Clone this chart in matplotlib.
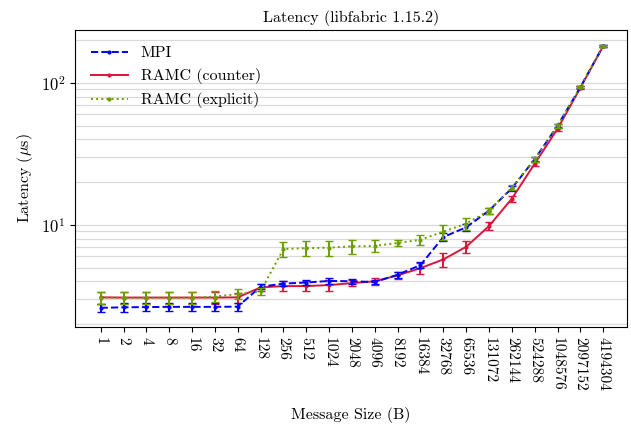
import matplotlib
matplotlib.use("Agg")
import matplotlib.pyplot as plt
from matplotlib.lines import Line2D
import numpy as np

plt.rcParams['font.family'] = ['cmr10', 'DejaVu Serif']
plt.rcParams['mathtext.fontset'] = 'cm'
plt.rcParams['axes.unicode_minus'] = False
plt.rcParams['axes.formatter.use_mathtext'] = True

sizes = ["1", "2", "4", "8", "16", "32", "64", "128", "256", "512", "1024", "2048",
         "4096", "8192", "16384", "32768", "65536", "131072", "262144", "524288",
         "1048576", "2097152", "4194304"]

mpi = [2.60, 2.62, 2.63, 2.64, 2.64, 2.64, 2.65, 3.66, 3.85, 3.92, 4.02, 4.0,
       3.95, 4.45, 5.2, 8.2, 9.6, 12.6, 18.1, 29.0, 50.0, 93.5, 183]
mpi_err = [0.18, 0.18, 0.17, 0.17, 0.17, 0.17, 0.18, 0.15, 0.15, 0.15, 0.17, 0.15,
           0.15, 0.2, 0.25, 0.5, 0.5, 0.6, 0.8, 1.2, 1.5, 2.0, 3.0]

counter = [3.08, 3.07, 3.07, 3.07, 3.07, 3.07, 3.08, 3.62, 3.70, 3.70, 3.76, 3.88,
           4.0, 4.4, 4.95, 5.7, 7.0, 9.8, 15.3, 27.0, 47.5, 92.5, 182]
counter_err = [0.3, 0.3, 0.3, 0.3, 0.3, 0.3, 0.25, 0.2, 0.3, 0.3, 0.35, 0.2,
               0.25, 0.25, 0.45, 0.65, 0.7, 0.6, 0.7, 1.0, 1.5, 2.0, 3.0]

explicit = [3.07, 3.06, 3.06, 3.06, 3.06, 3.12, 3.25, 3.40, 6.75, 6.85, 6.9, 7.05,
            7.1, 7.45, 7.85, 8.95, 10.2, 12.6, 18.3, 29.0, 50.0, 93.5, 183]
explicit_err = [0.3, 0.3, 0.3, 0.3, 0.3, 0.28, 0.25, 0.2, 0.8, 0.8, 0.85, 0.8,
                0.7, 0.35, 0.6, 1.1, 1.0, 0.6, 0.8, 1.2, 1.5, 2.0, 3.0]

series = [
    ("MPI", mpi, mpi_err, '#0000ff', '--', 4),
    ("RAMC (counter)", counter, counter_err, '#dc143c', '-', 3),
    ("RAMC (explicit)", explicit, explicit_err, '#6b9e00', ':', 5),
]

x = np.arange(len(sizes))

fig, ax = plt.subplots(figsize=(6.31, 4.30), dpi=100)
fig.subplots_adjust(left=0.119, right=0.994, top=0.930, bottom=0.240)

handles = []
for label, vals, errs, color, ls, z in series:
    ax.errorbar(x, vals, yerr=errs, color=color, linestyle=ls, marker='.',
                markersize=4, linewidth=1.4, capsize=3, elinewidth=1.4, zorder=z)
    handles.append(Line2D([], [], color=color, linestyle=ls, marker='.',
                          markersize=4, linewidth=1.4, label=label))

ax.set_yscale('log')
ax.set_ylim(1.91, 236)
ax.set_xlim(-1.12, 23.05)
ax.set_xticks(x)
ax.set_xticklabels(sizes, rotation=-90, fontsize=11)
ax.tick_params(axis='y', which='major', labelsize=12)
ax.tick_params(axis='y', which='minor', length=0)
ax.yaxis.grid(True, which='both', color='#d9d9d9', linewidth=0.9)
ax.set_axisbelow(True)

ax.set_title('Latency (libfabric 1.15.2)', fontsize=11.5)
ax.set_ylabel(r'Latency ($\mu$s)', fontsize=11.5)
ax.set_xlabel('Message Size (B)', fontsize=11.5, labelpad=12)

ax.legend(handles=handles, loc='upper left', frameon=False, fontsize=11.5,
          handlelength=2.3, handletextpad=0.8, borderaxespad=0.6)

fig.savefig('out.png', dpi=100)
